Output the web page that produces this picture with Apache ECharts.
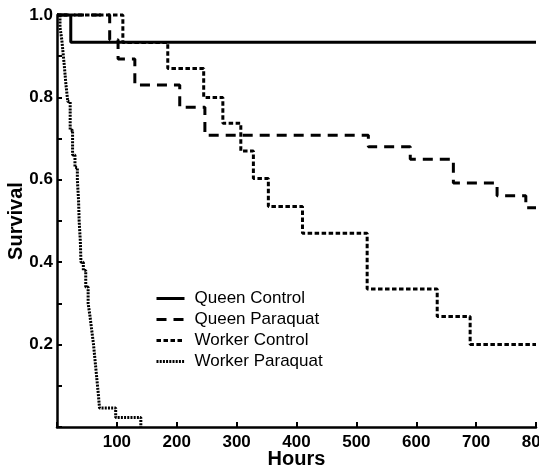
<!DOCTYPE html>
<html>
<head>
<meta charset="utf-8">
<script src="https://cdn.jsdelivr.net/npm/echarts@6/dist/echarts.min.js"></script>
<style>
  html, body { margin: 0; padding: 0; background: #fff; }
  #chart { width: 539px; height: 473px; }
</style>
</head>
<body>
<div id="chart"></div>
<script>
// Kaplan-Meier survival: time of each step (hours) and survival after it
const seriesNames = ['Queen Control', 'Queen Paraquat', 'Worker Control', 'Worker Paraquat'];

const queenControlHours = [0, 23, 800];
const queenControlSurv  = [1, 0.934, 0.934];

const queenParaquatHours = [0, 88, 102, 130, 205, 247, 520, 590, 662, 735, 783, 800];
const queenParaquatSurv  = [1, 0.94, 0.893, 0.83, 0.776, 0.708, 0.68, 0.65, 0.592, 0.561, 0.532, 0.532];

const workerControlHours = [0, 110, 185, 245, 277, 307, 328, 353, 410, 518, 635, 690, 800];
const workerControlSurv  = [1, 0.933, 0.87, 0.8, 0.737, 0.67, 0.603, 0.535, 0.47, 0.335, 0.268, 0.2, 0.2];

const workerParaquatHours = [0, 5, 8, 10, 12, 15, 18, 22, 26, 30, 34, 36, 37, 39, 40, 44, 48, 52, 55, 58, 61, 63, 65, 67, 69, 71, 98, 140];
const workerParaquatSurv  = [1, 0.97, 0.94, 0.91, 0.88, 0.83, 0.79, 0.72, 0.66, 0.63, 0.6, 0.55, 0.5, 0.45, 0.4, 0.38, 0.34, 0.3, 0.27, 0.235, 0.2, 0.17, 0.14, 0.11, 0.08, 0.046, 0.023, 0];

const FONT = "'Liberation Sans', Arial, Helvetica, sans-serif";

function pairs(xs, ys) {
  return xs.map((x, i) => [x, ys[i]]);
}

function stepSeries(name, xs, ys, dash) {
  return {
    name: name,
    type: 'line',
    step: 'end',
    symbol: 'none',
    clip: false,
    data: pairs(xs, ys),
    lineStyle: { color: '#000', width: 3, type: dash, cap: 'butt' },
    itemStyle: { color: '#000' },
    emphasis: { disabled: true }
  };
}

const chart = echarts.init(document.getElementById('chart'), null, { renderer: 'canvas' });

chart.setOption({
  animation: false,
  backgroundColor: '#fff',
  grid: { left: 57, right: 3, top: 15, bottom: 46, containLabel: false, outerBoundsMode: 'none' },
  legend: {
    orient: 'vertical',
    left: 150,
    top: 285,
    itemWidth: 28,
    itemHeight: 14,
    itemGap: 4,
    // only the line sample is shown, no marker in its middle
    itemStyle: { opacity: 0 },
    lineStyle: { width: 3 },
    textStyle: { fontFamily: FONT, fontSize: 17, color: '#000', padding: [0, 0, 0, 5], lineHeight: 17 },
    data: seriesNames
  },
  xAxis: {
    type: 'value',
    min: 0,
    max: 800,
    interval: 100,
    name: 'Hours',
    nameLocation: 'middle',
    nameGap: 22,
    nameMoveOverlap: false,
    nameTextStyle: { fontFamily: FONT, fontSize: 20, fontWeight: 'bold', color: '#000' },
    axisLine: { show: true, lineStyle: { color: '#000', width: 2.5 } },
    axisTick: { show: true, inside: true, length: 5, lineStyle: { color: '#000', width: 2 } },
    axisLabel: {
      fontFamily: FONT, fontSize: 17, fontWeight: 'bold', color: '#000', margin: 7,
      formatter: v => (v === 0 ? '' : String(v))
    },
    splitLine: { show: false }
  },
  yAxis: {
    type: 'value',
    min: 0,
    max: 1,
    interval: 0.1,
    name: 'Survival',
    nameLocation: 'middle',
    nameGap: 31,
    nameMoveOverlap: false,
    nameTextStyle: { fontFamily: FONT, fontSize: 20, fontWeight: 'bold', color: '#000' },
    axisLine: { show: true, lineStyle: { color: '#000', width: 2.5 } },
    axisTick: { show: true, inside: true, length: 5, lineStyle: { color: '#000', width: 2 } },
    axisLabel: {
      fontFamily: FONT, fontSize: 17, fontWeight: 'bold', color: '#000', margin: 4,
      // labels on every second tick, none at zero
      formatter: v => {
        const tenths = Math.round(v * 10);
        return (tenths === 0 || tenths % 2 !== 0) ? '' : v.toFixed(1);
      }
    },
    splitLine: { show: false }
  },
  series: [
    stepSeries('Queen Control', queenControlHours, queenControlSurv, 'solid'),
    stepSeries('Queen Paraquat', queenParaquatHours, queenParaquatSurv, [10, 7]),
    stepSeries('Worker Control', workerControlHours, workerControlSurv, [4.5, 2.5]),
    stepSeries('Worker Paraquat', workerParaquatHours, workerParaquatSurv, [2, 1.2])
  ]
});
</script>
</body>
</html>
